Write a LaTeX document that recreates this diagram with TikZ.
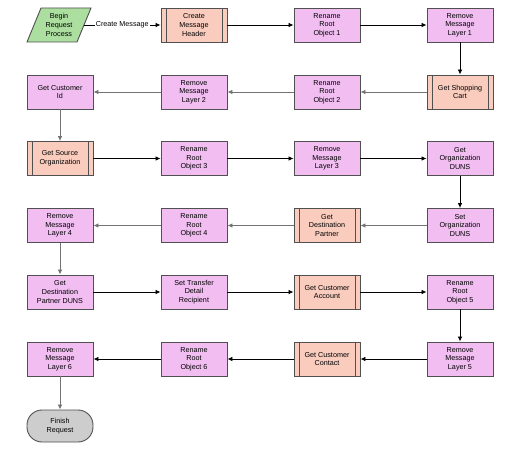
\documentclass[tikz,border=0pt]{standalone}
\usepackage{fontspec}
\setmainfont{Liberation Sans}
\usetikzlibrary{arrows.meta}
\definecolor{taskpink}{RGB}{242,190,242}
\definecolor{subfill}{RGB}{250,204,190}
\definecolor{startgreen}{RGB}{172,222,160}
\definecolor{termgray}{RGB}{205,205,205}
\definecolor{boxline}{RGB}{80,80,80}
\definecolor{flowgray}{RGB}{115,115,115}
\begin{document}
\begin{tikzpicture}[x=1pt,y=-1pt,
  txt/.style={font=\fontsize{7.2}{8.7}\selectfont, align=center, inner sep=0pt},
  box/.style={txt, draw=boxline, line width=0.9pt, fill=taskpink, minimum width=66pt, minimum height=34pt},
  subproc/.style={box, fill=subfill},
  term/.style={txt, draw=boxline, line width=0.9pt, fill=termgray, minimum width=66pt, minimum height=32pt, rounded corners=15pt},
  flow/.style={-{Latex[length=5pt,width=4.5pt]}, line width=0.8pt, draw=black},
  gflow/.style={flow, draw=flowgray},
  lbl/.style={txt, fill=white, inner xsep=1pt, inner ysep=1pt}
]
\useasboundingbox (0,0) rectangle (525,452);
% start shape
\filldraw[fill=startgreen, draw=boxline, line width=0.9pt] (27,42) -- (77,42) -- (91,8) -- (41,8) -- cycle;
\node[txt] (begin) at (59,25) {Begin\\Request\\Process};
\coordinate (begE) at (84,25);
% row 1
\node[subproc] (h1) at (194,25) {Create\\Message\\Header};
\node[box] (r1) at (327,25) {Rename\\Root\\Object 1};
\node[box] (l1) at (460,25) {Remove\\Message\\Layer 1};
% row 2
\node[subproc] (cart) at (460,92) {Get Shopping\\Cart};
\node[box] (r2) at (327,92) {Rename\\Root\\Object 2};
\node[box] (l2) at (194,92) {Remove\\Message\\Layer 2};
\node[box] (cid) at (60,92) {Get Customer\\Id};
% row 3
\node[subproc] (src) at (60,158.5) {Get Source\\Organization};
\node[box] (r3) at (194,158.5) {Rename\\Root\\Object 3};
\node[box] (l3) at (327,158.5) {Remove\\Message\\Layer 3};
\node[box] (odu) at (460,158.5) {Get\\Organization\\DUNS};
% row 4
\node[box] (sodu) at (460,225.5) {Set\\Organization\\DUNS};
\node[subproc] (dp) at (327,225.5) {Get\\Destination\\Partner};
\node[box] (r4) at (194,225.5) {Rename\\Root\\Object 4};
\node[box] (l4) at (60,225.5) {Remove\\Message\\Layer 4};
% row 5
\node[box] (dpd) at (60,292) {Get\\Destination\\Partner DUNS};
\node[box] (tdr) at (194,292) {Set Transfer\\Detail\\Recipient};
\node[subproc] (ca) at (327,292) {Get Customer\\Account};
\node[box] (r5) at (460,292) {Rename\\Root\\Object 5};
% row 6
\node[box] (l5) at (460,359) {Remove\\Message\\Layer 5};
\node[subproc] (cc) at (327,359) {Get Customer\\Contact};
\node[box] (r6) at (194,359) {Rename\\Root\\Object 6};
\node[box] (l6) at (60,359) {Remove\\Message\\Layer 6};
% end
\node[term] (fin) at (60,426) {Finish\\Request};
% subprocess inner bars
\foreach \n in {h1,cart,src,dp,ca,cc}{
  \draw[boxline, line width=0.8pt] ([xshift=5.5pt]\n.north west) -- ([xshift=5.5pt]\n.south west);
  \draw[boxline, line width=0.8pt] ([xshift=-5.5pt]\n.north east) -- ([xshift=-5.5pt]\n.south east);
}
% connectors
\draw[flow] (begE) -- node[lbl] {Create Message} (h1);
\draw[flow] (h1) -- (r1);
\draw[flow] (r1) -- (l1);
\draw[flow] (l1) -- (cart);
\draw[gflow] (cart) -- (r2);
\draw[gflow] (r2) -- (l2);
\draw[gflow] (l2) -- (cid);
\draw[gflow] (cid) -- (src);
\draw[flow] (src) -- (r3);
\draw[flow] (r3) -- (l3);
\draw[flow] (l3) -- (odu);
\draw[flow] (odu) -- (sodu);
\draw[gflow] (sodu) -- (dp);
\draw[gflow] (dp) -- (r4);
\draw[gflow] (r4) -- (l4);
\draw[gflow] (l4) -- (dpd);
\draw[flow] (dpd) -- (tdr);
\draw[flow] (tdr) -- (ca);
\draw[flow] (ca) -- (r5);
\draw[flow] (r5) -- (l5);
\draw[flow] (l5) -- (cc);
\draw[flow] (cc) -- (r6);
\draw[flow] (r6) -- (l6);
\draw[gflow] (l6) -- (fin);
\end{tikzpicture}
\end{document}
